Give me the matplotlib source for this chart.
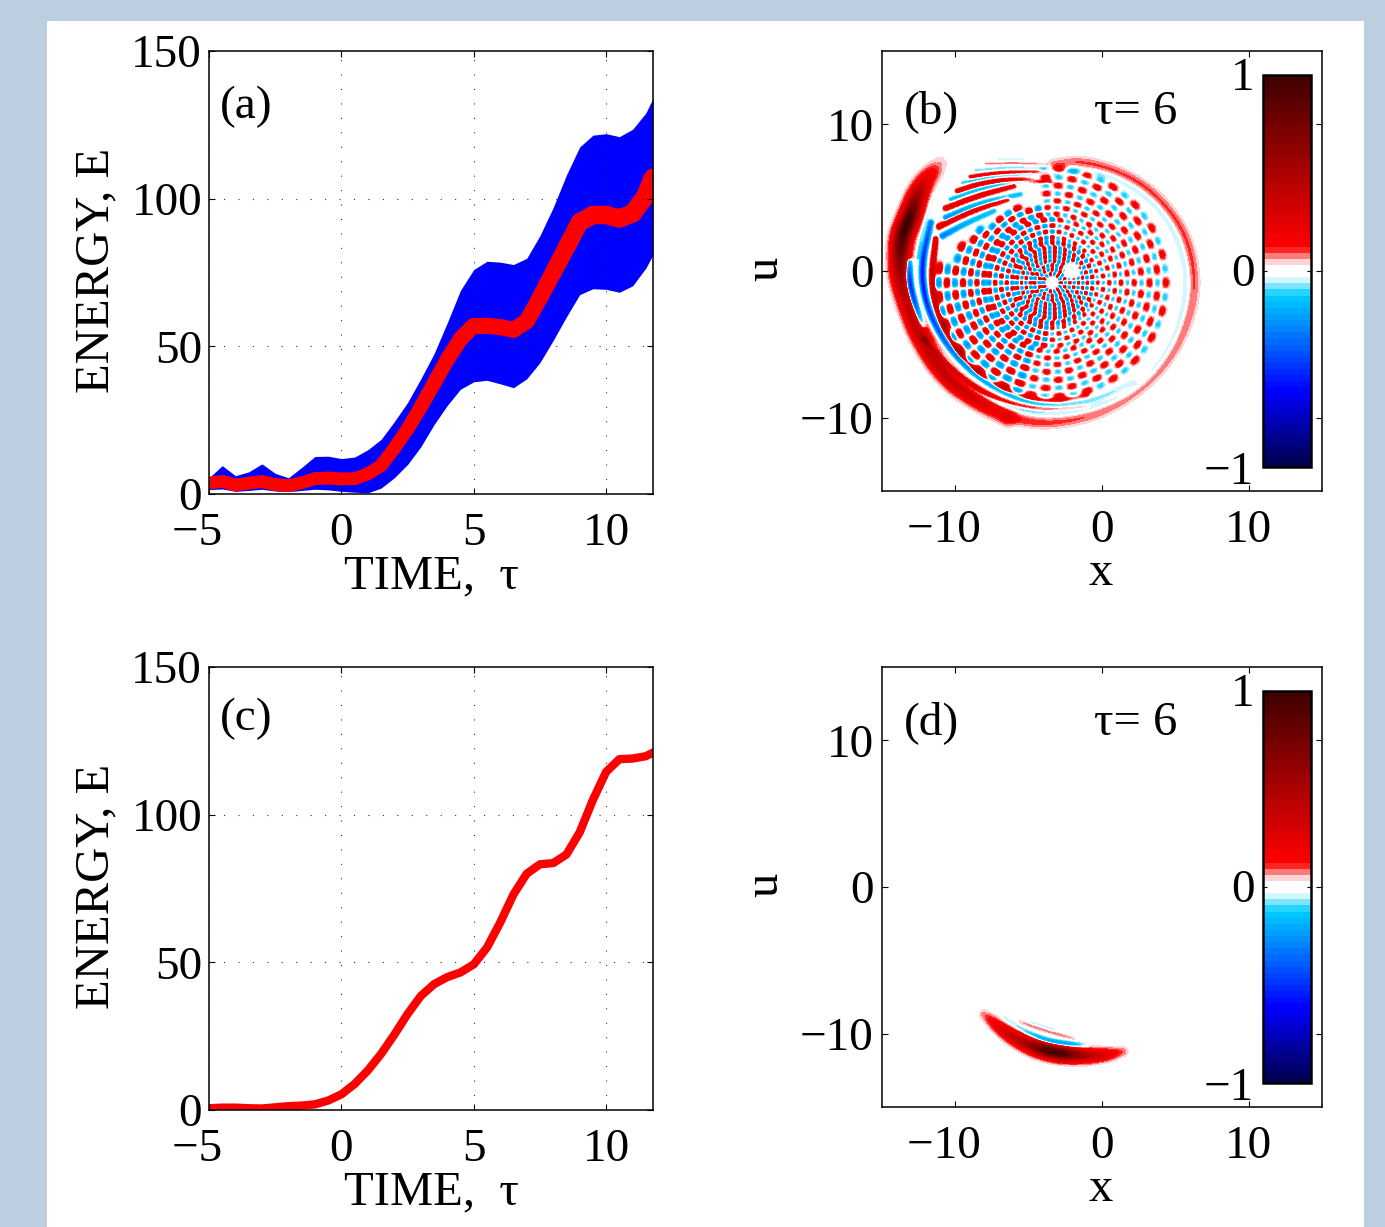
import numpy as np
import matplotlib
matplotlib.use('Agg')
import matplotlib.pyplot as plt
from matplotlib.colors import LinearSegmentedColormap
from matplotlib.patches import Rectangle

W, H = 1385, 1227
plt.rcParams['font.family'] = ['Liberation Serif', 'DejaVu Serif']

# panel (a), values
tau_a = [-5, -4.5, -4, -3.5, -3, -2.5, -2, -1.5, -1, -0.5, 0, 0.5, 1, 1.5, 2, 2.5, 3, 3.5, 4, 4.5, 5, 5.5, 6, 6.5, 7, 7.5, 8, 8.5, 9, 9.5, 10, 10.5, 11, 11.5, 11.77]
mean_a = [3.7, 4.3, 3.0, 3.7, 4.2, 3.2, 2.8, 3.8, 5.2, 5.4, 5.1, 5.2, 6.8, 9.6, 15.5, 22, 29.5, 37.5, 45.5, 52.5, 57, 57, 56.5, 55.6, 58.5, 66.5, 75, 83.5, 92, 94.5, 94.5, 93.3, 95, 101, 107]
upper_a = [5.5, 9.6, 6.2, 7.5, 10.2, 7, 5.5, 9, 12.7, 12.8, 12, 12.5, 15, 18.5, 24.5, 31, 39, 47.5, 58, 69, 76, 78.8, 78.5, 77.7, 79.8, 87.5, 97, 108, 117.5, 121.5, 122, 121, 123.5, 129, 134]
lower_a = [1.5, 1.7, 0.9, 1.2, 1.6, 1, 0.8, 1.2, 1.6, 1.4, 0.9, 0.6, 0.4, 2, 5.5, 10, 16, 23.5, 30, 35.5, 38, 38.5, 37.3, 36, 39, 44.5, 52, 60, 67.5, 69.5, 69.3, 68.3, 70.5, 76.5, 81]

# panel (c)
tau_c = [-5, -4.5, -4, -3.5, -3, -2.5, -2, -1.5, -1, -0.5, 0, 0.5, 1, 1.5, 2, 2.5, 3, 3.5, 4, 4.5, 5, 5.5, 6, 6.5, 7, 7.5, 8, 8.5, 9, 9.5, 10, 10.5, 11, 11.5, 11.77]
energy_c = [0.6, 0.8, 0.8, 0.6, 0.5, 0.9, 1.3, 1.5, 1.9, 3.2, 5.3, 8.8, 13.4, 19, 25.5, 32.5, 38.6, 42.6, 45, 46.6, 49.3, 55, 63.5, 73, 80, 83.2, 83.6, 86.5, 94, 105, 114.5, 118.8, 119, 119.8, 121]

# panel (b): main ridges, as x, u, amplitude, width
# the inner interference texture is only approximated: ring radii and the sign of each lobe
spiral_x = [-6.48, -8.30, -10.56, -12.38, -13.4, -13.85, -13.74, -13.17, -12.38, -11.13]
spiral_u = [-9.95, -8.93, -7.35, -4.63, -1.9, -0.09, 2.18, 3.54, 5.81, 7.28]
spiral_a = [0.14, 0.3, 0.4, 0.42, 0.42, 0.55, 0.95, 1.05, 0.35, 0.07]
outer_x = [-3.31, -1.49, 0.77, 2.81, 4.40, 5.76, 6.33, 6.22, 5.31, 3.95, 2.13, -0.13, -2.40, -4.44, -6.48]
outer_u = [7.28, 7.51, 6.94, 5.92, 4.45, 2.40, -0.09, -2.36, -4.85, -6.89, -8.48, -9.73, -10.3, -10.41, -9.95]
outer_a = [0.08, 0.1, 0.1, 0.1, 0.1, 0.1, 0.1, 0.09, 0.09, 0.08, 0.08, 0.09, 0.1, 0.11, 0.13]
ridges_b = [
    (spiral_x, spiral_u, spiral_a, 0.42),
    (outer_x, outer_u, outer_a, 0.3),
    ([-13.17, -13.17, -12.83, -12.27], [0.59, -0.77, -2.13, -3.72], [-0.4, -0.8, -0.7, -0.25], 0.16),
    ([-11.47, -12.27, -12.6], [5.13, 2.86, 0.9], [-0.05, -0.08, -0.12], 0.09),
    ([-11.70, -9.43, -6.71, -3.76, -0.36, 2.59, 4.85, 5.76, 5.76, 4.85, 3.04, 0.77, -1.49, -3.31],
     [-5.08, -7.80, -9.16, -9.84, -9.39, -7.91, -5.08, -1.90, 0.36, 3.08, 5.13, 6.49, 6.94, 6.71],
     [-0.2, -0.2, -0.12, -0.07, -0.07, -0.07, -0.07, -0.07, -0.07, -0.07, -0.07, -0.07, -0.08, -0.06], 0.17),
    ([-12.15, -9.88, -7.16, -4.22, -1.04], [-4.63, -7.23, -8.82, -9.50, -9.27], [0.3, 0.35, 0.2, 0.12, 0.07], 0.12),
    ([-11.70, -12.38, -12.04, -10.79, -8.98, -6.48, -3.76, -0.59, 2.13],
     [3.31, 0.36, -2.36, -4.85, -6.89, -8.48, -9.27, -8.93, -7.57],
     [-0.35, -0.6, -0.55, -0.4, -0.3, -0.2, -0.12, -0.08, -0.05], 0.14),
    ([-11.36, -11.70, -11.13, -9.88, -8.07, -5.58, -3.31, -1.04],
     [2.18, -0.77, -3.26, -5.53, -7.35, -8.59, -8.93, -8.48],
     [0.3, 0.4, 0.4, 0.4, 0.3, 0.2, 0.18, 0.1], 0.13),
    ([-8.98, -7.16, -3.76], [6.44, 6.71, 6.83], [0.2, 0.2, 0.1], 0.1),
    ([-8.64, -6.03, -4.0], [6.89, 7.12, 6.94], [-0.08, -0.08, -0.04], 0.08),
    ([-7.96, -5.58, -3.76], [7.35, 7.39, 7.28], [0.07, 0.08, 0.06], 0.07),
    ([-7.05, -5.35], [7.66, 7.62], [-0.05, -0.05], 0.07),
    ([-9.88, -8.30, -6.03, -3.54], [5.47, 5.99, 6.30, 6.08], [0.25, 0.3, 0.25, 0.12], 0.12),
    ([-9.54, -7.39, -4.90], [6.03, 6.49, 6.60], [-0.12, -0.12, -0.08], 0.09),
    ([-10.34, -8.52, -6.48, -4.22], [4.90, 5.58, 6.03, 6.26], [-0.16, -0.15, -0.15, -0.08], 0.11),
    ([-10.68, -8.52, -6.03], [4.29, 5.13, 5.81], [0.28, 0.28, 0.2], 0.13),
    ([-10.68, -8.30, -5.58], [3.65, 4.67, 5.24], [-0.3, -0.2, -0.15], 0.13),
    ([-11.13, -8.98, -6.48], [3.04, 4.10, 4.90], [0.3, 0.28, 0.2], 0.14),
    ([-10.90, -9.43, -7.39], [2.40, 3.20, 4.10], [-0.35, -0.2, -0.15], 0.14),
]
ring_radius = [0.6, 0.9, 1.2, 1.5, 1.8, 2.1, 2.4, 2.75, 3.1, 3.5, 3.9, 4.3, 4.7, 5.15, 5.6, 6.1, 6.65, 7.2, 7.75]
ring_signs = [
    "RB" * 7,
    "BR" * 10,
    "RB" * 12,
    "BR" * 15,
    "RB" * 17,
    "BR" * 19,
    "RB" * 21,
    "BR" * 22,
    "rb" * 6 + "RB" * 12 + "rb" * 6,
    "br" * 6 + "BR" * 12 + "br" * 6,
    "rb" * 6 + "RB" * 12 + "rb" * 6,
    "br" * 6 + "BR" * 12 + "br" * 6,
    "rb" * 7 + "RB" * 11 + "rb" * 7,
    "br" * 7 + "BR" * 11 + "br" * 7,
    "rb" * 7 + ".." + "RB" * 10 + "rb" * 7,
    "br" * 7 + "......" + "BR" * 8 + "br" * 7,
    "rb" * 7 + "........" + "RB" * 7 + "rb" * 7,
    "br" * 7 + ".........." + "BR" * 6 + "br" * 7,
    "rb" * 7 + ".........." + "RB" * 6 + "rb" * 7,
]
ring_center_x = -3.4
ring_center_u = -0.8
hole_x = -2.06
hole_u = 0.02
hole_r = 0.62

# panel (d)
ridges_d = [
    ([-8.07, -6.71, -5.12, -3.31, -1.27, 0.32, 1.45], [-8.71, -9.84, -10.75, -11.32, -11.54, -11.47, -11.25],
     [0.08, 0.3, 0.5, 1.15, 0.5, 0.25, 0.09], [0.26, 0.33, 0.36, 0.34, 0.33, 0.3, 0.26]),
    ([-6.71, -5.35, -3.76, -2.18, -1.04], [-8.93, -9.84, -10.52, -10.75, -10.82],
     [-0.06, -0.12, -0.35, -0.3, -0.06], 0.14),
    ([-5.58, -3.99, -1.95], [-9.23, -9.77, -10.36], [0.06, 0.09, 0.06], 0.11),
    ([-4.78, -3.31], [-9.27, -9.77], [-0.06, -0.06], 0.09),
]

cmap_nodes = [(0, '#00004f'), (0.189, '#0000ff'), (0.4375, '#00ccff'), (0.484, '#ffffff'),
              (0.516, '#ffffff'), (0.562, '#ff0000'), (1, '#400000')]
wigner = LinearSegmentedColormap.from_list('wigner', cmap_nodes, N=64)

grid = np.linspace(-15, 15, 440)
X, U = np.meshgrid(grid, grid)


def smooth(pts):
    for _ in range(3):
        q = 0.75 * pts[:-1] + 0.25 * pts[1:]
        r = 0.25 * pts[:-1] + 0.75 * pts[1:]
        mid = np.empty((2 * len(q), pts.shape[1]))
        mid[0::2] = q
        mid[1::2] = r
        pts = np.vstack([pts[:1], mid, pts[-1:]])
    return pts


def add_ridge(field, x, u, amp, width):
    w = np.broadcast_to(width, (len(x),))
    pts = smooth(np.column_stack([x, u, amp, w]))
    best = np.full(X.shape, np.inf)
    val = np.zeros(X.shape)
    for p0, p1 in zip(pts[:-1], pts[1:]):
        d = p1[:2] - p0[:2]
        t = np.clip(((X - p0[0]) * d[0] + (U - p0[1]) * d[1]) / (d @ d + 1e-9), 0, 1)
        dist = np.hypot(X - p0[0] - t * d[0], U - p0[1] - t * d[1])
        s = p0[3] + t * (p1[3] - p0[3])
        q = dist / s
        closer = q < best
        best[closer] = q[closer]
        val[closer] = (p0[2] + t * (p1[2] - p0[2]))[closer]
    return field + val * np.exp(-0.5 * best ** 2)


def make_b():
    field = np.zeros(X.shape)
    strengths = {'R': 0.3, 'r': 0.2, 'B': -0.28, 'b': -0.13}
    dr = np.gradient(ring_radius)
    for rad, step, signs in zip(ring_radius, dr, ring_signs):
        n = len(signs)
        st = 0.3 * 2 * np.pi * rad / n
        sr = 0.34 * step
        for i, c in enumerate(signs):
            if c == '.':
                continue
            a = 2 * np.pi * i / n
            dx = X - (ring_center_x + rad * np.cos(a))
            du = U - (ring_center_u + rad * np.sin(a))
            tang = -dx * np.sin(a) + du * np.cos(a)
            radial = dx * np.cos(a) + du * np.sin(a)
            field += strengths[c] * np.exp(-0.5 * (tang / st) ** 2 - 0.5 * (radial / sr) ** 2)
    for x, u, amp, width in ridges_b:
        field = add_ridge(field, x, u, amp, width)
    d = np.hypot(X - hole_x, U - hole_u) / hole_r
    return field * (1 - np.exp(-d ** 6))


def make_d():
    field = np.zeros(X.shape)
    for x, u, amp, width in ridges_d:
        field = add_ridge(field, x, u, amp, width)
    return field


def px_axes(x0, y0, x1, y1):
    return fig.add_axes([x0 / W, 1 - y1 / H, (x1 - x0) / W, (y1 - y0) / H])


def px_text(x, y, s, size=35, **kw):
    kw.setdefault('ha', 'center')
    kw.setdefault('va', 'center')
    fig.text(x / W, 1 - y / H, s, fontsize=size, **kw)


fig = plt.figure(figsize=(W / 100, H / 100), dpi=100, facecolor='#bccee0')
fig.patches.append(Rectangle((47 / W, 0), (1364 - 47) / W, 1 - 21 / H, transform=fig.transFigure,
                             facecolor='white', edgecolor='none', zorder=-5))


def energy_axes(y0, y1, label, label_y):
    ax = px_axes(209, y0, 653, y1)
    ax.set_xlim(-5, 11.77)
    ax.set_ylim(0, 150)
    ax.set_xticks([-5, 0, 5, 10])
    ax.set_xticklabels(['\u22125\u2002', '0', '5', '10'])
    ax.set_yticks([0, 50, 100, 150])
    ax.tick_params(direction='in', length=4, width=0.8, top=True, right=True, labelsize=34)
    ax.tick_params(axis='x', pad=13)
    ax.tick_params(axis='y', pad=5)
    ax.grid(True, color='#333333', linewidth=0.8, linestyle=(0, (1, 12)))
    ax.set_axisbelow(False)
    for s in ax.spines.values():
        s.set_linewidth(1.1)
    px_text(96, (y0 + y1) / 2 - 2, 'ENERGY, E', rotation=90)
    px_text(431, y1 + 82, 'TIME,  \u03c4')
    px_text(246, label_y, label, size=34)
    return ax


def map_axes(y0, y1, field, label, label_y):
    ax = px_axes(882, y0, 1322, y1)
    ax.imshow(field, extent=[-15, 15, -15, 15], origin='lower', cmap=wigner, vmin=-1, vmax=1,
              interpolation='bilinear', aspect='auto')
    ax.set_xticks([-10, 0, 10])
    ax.set_xticklabels(['\u221210\u2002', '0', '10'])
    ax.set_yticks([-10, 0, 10])
    ax.set_yticklabels(['\u221210', '0', '10'])
    ax.tick_params(direction='in', length=4, width=0.8, top=True, right=True, labelsize=34)
    ax.tick_params(axis='x', pad=13)
    ax.tick_params(axis='y', pad=6)
    for s in ax.spines.values():
        s.set_linewidth(1.1)
    px_text(765, (y0 + y1) / 2 - 2, 'u', rotation=90)
    px_text(1101, y1 + 82, 'x')
    px_text(932, label_y + 2, label, size=34)
    px_text(1136, label_y + 2, '\u03c4= 6', size=35)

    cax = px_axes(1263, y0 + 24, 1311, y0 + 416)
    cbar = fig.colorbar(ax.images[0], cax=cax)
    cbar.set_ticks([0])
    cax.tick_params(direction='in', length=3, width=0.8, left=True, right=True, labelleft=False, labelright=False)
    cbar.outline.set_linewidth(1.8)
    px_text(1243, y0 + 28, '1', size=34)
    px_text(1243, y0 + 224, '0', size=34)
    px_text(1229, y0 + 422, '\u22121', size=34)
    return ax


ax_a = energy_axes(51, 494, '(a)', 107)
ax_a.fill_between(tau_a, lower_a, upper_a, color='#0000ff', linewidth=0)
# the red band gets thicker with energy in the reference
for i in range(len(tau_a) - 1):
    ax_a.plot(tau_a[i:i + 2], mean_a[i:i + 2], color='#ff0000', solid_capstyle='round',
              linewidth=9 + 0.045 * mean_a[i])

ax_c = energy_axes(667, 1110, '(c)', 719)
ax_c.plot(tau_c, energy_c, color='#ff0000', linewidth=6, solid_capstyle='projecting', solid_joinstyle='round')

map_axes(51, 491, make_b(), '(b)', 110)
map_axes(667, 1107, make_d(), '(d)', 721)

fig.savefig('out.png', dpi=100, facecolor=fig.get_facecolor())
